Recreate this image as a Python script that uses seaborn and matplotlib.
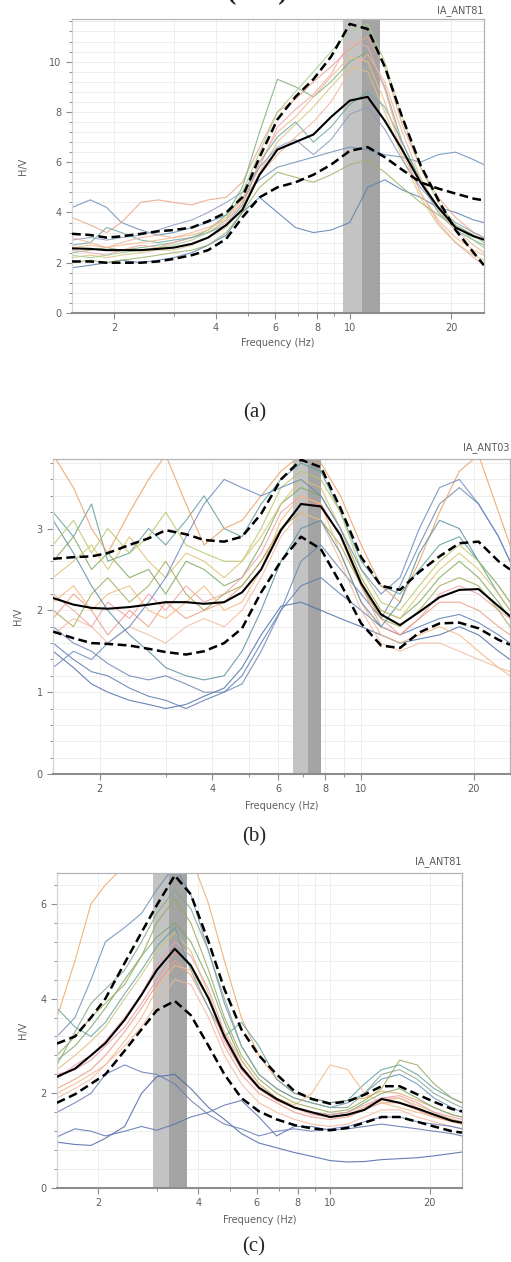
import numpy as np
import pandas as pd
import matplotlib
matplotlib.use("Agg")
import matplotlib.pyplot as plt
import matplotlib.ticker as mticker
import seaborn as sns

# frequency samples (Hz) used for every curve
freq = [1.5, 1.7, 1.9, 2.1, 2.4, 2.7, 3.0, 3.4, 3.8, 4.3, 4.8, 5.4, 6.1, 6.9, 7.8,
        8.8, 10.0, 11.3, 12.7, 14.3, 16.2, 18.3, 20.6, 23.3, 25.0]
xticks = [2, 4, 6, 8, 10, 20]

# ---- (a) IA_ANT81 ----
a_mean = [2.57, 2.55, 2.5, 2.5, 2.5, 2.55, 2.6, 2.75, 3.0, 3.5, 4.1, 5.5, 6.5, 6.8, 7.1,
          7.8, 8.45, 8.6, 7.65, 6.5, 5.2, 4.2, 3.4, 3.05, 2.92]
a_up = [3.15, 3.1, 3.0, 3.05, 3.15, 3.25, 3.3, 3.4, 3.65, 4.0, 4.6, 6.2, 7.7, 8.6, 9.3,
        10.2, 11.5, 11.3, 9.8, 7.8, 5.9, 4.5, 3.3, 2.4, 1.9]
a_low = [2.05, 2.05, 2.0, 2.0, 2.0, 2.05, 2.15, 2.3, 2.5, 2.95, 3.8, 4.6, 5.0, 5.2, 5.5,
         5.9, 6.45, 6.6, 6.2, 5.7, 5.2, 4.95, 4.75, 4.55, 4.48]
a_curves = [
    [1.8, 1.9, 2.0, 2.1, 2.0, 2.1, 2.2, 2.4, 2.7, 3.1, 4.0, 4.6, 4.0, 3.4, 3.2, 3.3, 3.6, 5.0, 5.3, 4.9, 4.6, 4.2, 4.0, 3.7, 3.6],
    [4.2, 4.5, 4.2, 3.6, 3.3, 3.1, 3.2, 3.4, 3.6, 3.9, 4.6, 5.3, 5.8, 6.0, 6.2, 6.4, 6.6, 6.5, 6.3, 6.2, 6.0, 6.3, 6.4, 6.1, 5.9],
    [3.8, 3.5, 3.2, 3.6, 4.4, 4.5, 4.4, 4.3, 4.5, 4.6, 5.2, 6.6, 8.0, 8.5, 9.2, 9.8, 10.5, 11.0, 9.8, 7.5, 5.8, 4.6, 3.8, 3.2, 3.0],
    [2.4, 2.5, 2.6, 2.5, 2.6, 2.7, 2.8, 3.0, 3.3, 3.9, 5.0, 7.2, 9.3, 9.0, 8.6, 9.2, 10.0, 10.4, 9.0, 6.8, 5.3, 4.2, 3.5, 3.1, 2.9],
    [2.5, 2.4, 2.3, 2.5, 2.7, 2.6, 2.8, 3.0, 3.2, 3.6, 4.4, 5.8, 7.4, 8.1, 8.7, 9.5, 10.8, 10.6, 8.9, 6.6, 4.8, 3.6, 2.8, 2.2, 1.9],
    [2.2, 2.3, 2.2, 2.3, 2.4, 2.5, 2.5, 2.7, 3.0, 3.4, 4.2, 5.6, 6.8, 7.5, 8.2, 9.0, 9.8, 9.6, 8.0, 6.2, 4.6, 3.5, 2.8, 2.3, 2.1],
    [2.7, 2.8, 3.4, 3.2, 2.9, 2.8, 2.9, 3.0, 3.2, 3.5, 4.3, 6.0, 7.0, 7.6, 6.8, 7.4, 8.3, 8.8, 8.2, 6.8, 5.2, 4.0, 3.3, 2.9, 2.7],
    [2.6, 2.7, 2.6, 2.7, 2.8, 2.9, 3.0, 3.1, 3.3, 3.8, 4.5, 6.0, 7.2, 7.8, 8.6, 9.4, 10.2, 10.0, 8.4, 6.4, 4.8, 3.7, 3.0, 2.5, 2.3],
    [2.0, 2.1, 2.0, 2.1, 2.2, 2.3, 2.4, 2.5, 2.7, 3.2, 4.0, 5.0, 5.6, 5.4, 5.2, 5.5, 5.9, 6.1, 5.6, 5.0, 4.4, 3.9, 3.4, 3.1, 2.8],
    [2.9, 3.0, 2.9, 3.0, 3.1, 3.3, 3.5, 3.7, 4.0, 4.4, 4.8, 5.8, 6.6, 6.9, 6.3, 6.9, 7.9, 8.2, 7.3, 6.1, 5.0, 4.2, 3.6, 3.2, 3.0],
    [3.0, 2.8, 2.6, 2.8, 3.0, 3.1, 3.0, 3.2, 3.4, 3.7, 4.4, 5.5, 6.3, 7.0, 7.6, 8.4, 9.6, 10.3, 9.2, 7.2, 5.4, 4.1, 3.3, 2.7, 2.4],
    [2.3, 2.2, 2.3, 2.4, 2.5, 2.6, 2.7, 2.9, 3.2, 3.7, 4.8, 6.4, 8.0, 8.8, 9.6, 10.4, 11.2, 11.5, 10.0, 7.8, 5.8, 4.4, 3.5, 2.9, 2.6],
]
a_colors = ['#5b7fb0', '#6c8fb8', '#eba487', '#7fae7a', '#f2a8b4', '#d9c384',
            '#6fa8a3', '#f4bb86', '#9eb36a', '#8e9bc0', '#f0b49a', '#a8cf8e']
a_peak = [9.53, 10.84, 12.3]

# ---- (b) IA_ANT03 ----
b_mean = [2.15, 2.07, 2.03, 2.02, 2.04, 2.07, 2.1, 2.1, 2.08, 2.1, 2.22, 2.5, 2.98, 3.3, 3.27,
          2.92, 2.33, 1.95, 1.82, 1.98, 2.16, 2.25, 2.26, 2.05, 1.93]
b_up = [2.63, 2.65, 2.66, 2.7, 2.8, 2.88, 2.98, 2.93, 2.86, 2.84, 2.9, 3.18, 3.6, 3.84, 3.75,
        3.25, 2.65, 2.3, 2.25, 2.47, 2.66, 2.82, 2.84, 2.6, 2.5]
b_low = [1.74, 1.66, 1.6, 1.59, 1.57, 1.53, 1.49, 1.46, 1.5, 1.6, 1.78, 2.22, 2.6, 2.9, 2.75,
         2.33, 1.84, 1.57, 1.54, 1.73, 1.84, 1.85, 1.78, 1.64, 1.58]
b_curves = [
    [1.5, 1.3, 1.1, 1.0, 0.9, 0.85, 0.8, 0.85, 0.95, 1.05, 1.3, 1.7, 2.05, 2.1, 2.0, 1.9, 1.8, 1.7, 1.6, 1.65, 1.7, 1.8, 1.7, 1.5, 1.4],
    [1.6, 1.4, 1.25, 1.2, 1.05, 0.95, 0.9, 0.8, 0.9, 1.0, 1.2, 1.6, 2.0, 2.3, 2.4, 2.2, 2.0, 1.8, 1.7, 1.8, 1.9, 1.95, 1.85, 1.7, 1.6],
    [1.8, 1.6, 1.5, 1.35, 1.2, 1.15, 1.2, 1.1, 1.0, 1.0, 1.1, 1.5, 2.0, 2.6, 2.8, 2.5, 2.2, 1.9, 2.3, 2.8, 3.3, 3.5, 3.3, 2.9, 2.6],
    [3.2, 2.9, 3.3, 2.6, 2.7, 3.0, 2.8, 3.1, 3.4, 3.0, 2.9, 3.3, 3.6, 3.8, 3.7, 3.2, 2.6, 2.3, 2.2, 2.5, 2.8, 2.9, 2.6, 2.2, 2.0],
    [3.9, 3.5, 3.0, 2.7, 3.2, 3.6, 3.9, 3.3, 2.8, 3.0, 3.1, 3.4, 3.7, 3.9, 3.8, 3.4, 2.8, 2.3, 2.1, 2.6, 3.2, 3.7, 3.9, 3.2, 2.8],
    [2.6, 2.9, 2.5, 2.7, 2.4, 2.5, 2.2, 2.6, 2.5, 2.3, 2.4, 2.8, 3.3, 3.5, 3.4, 3.0, 2.4, 2.0, 1.9, 2.1, 2.4, 2.6, 2.4, 2.1, 1.9],
    [2.2, 2.0, 1.8, 2.1, 1.9, 2.2, 2.0, 2.3, 2.1, 2.2, 2.4, 2.7, 3.2, 3.4, 3.3, 2.9, 2.3, 1.9, 1.7, 1.9, 2.2, 2.3, 2.2, 2.0, 1.9],
    [1.9, 2.2, 2.0, 1.7, 2.0, 1.8, 2.1, 1.9, 2.0, 2.1, 2.3, 2.6, 3.0, 3.3, 3.3, 2.9, 2.3, 1.8, 1.7, 1.9, 2.1, 2.1, 2.0, 1.8, 1.7],
    [2.4, 2.6, 2.8, 2.5, 2.9, 2.6, 2.4, 2.7, 2.6, 2.4, 2.6, 2.9, 3.3, 3.6, 3.5, 3.0, 2.4, 2.0, 1.9, 2.2, 2.5, 2.7, 2.5, 2.2, 2.0],
    [2.0, 1.8, 2.2, 2.4, 2.1, 2.3, 2.6, 2.2, 2.0, 2.2, 2.3, 2.6, 3.0, 3.2, 3.1, 2.8, 2.3, 1.9, 1.8, 2.0, 2.3, 2.4, 2.3, 2.0, 1.8],
    [2.1, 2.3, 2.0, 2.2, 2.3, 2.0, 1.9, 2.1, 2.3, 2.0, 2.1, 2.5, 3.1, 3.4, 3.3, 2.7, 2.1, 1.7, 1.6, 1.7, 1.8, 1.7, 1.5, 1.3, 1.25],
    [1.7, 1.9, 1.8, 1.6, 1.8, 1.7, 1.6, 1.8, 1.9, 1.8, 2.0, 2.4, 2.9, 3.2, 3.1, 2.6, 2.0, 1.6, 1.5, 1.6, 1.6, 1.5, 1.4, 1.3, 1.2],
    [3.1, 2.7, 2.3, 2.0, 1.7, 1.5, 1.3, 1.2, 1.15, 1.2, 1.5, 2.0, 2.6, 3.0, 3.1, 2.7, 2.1, 1.8, 2.1, 2.7, 3.1, 3.0, 2.6, 2.3, 2.1],
    [2.8, 3.1, 2.7, 3.0, 2.7, 2.9, 3.2, 2.8, 2.7, 2.6, 2.6, 3.0, 3.5, 3.7, 3.6, 3.2, 2.5, 2.1, 2.0, 2.3, 2.6, 2.8, 2.6, 2.3, 2.1],
    [1.3, 1.5, 1.4, 1.6, 1.8, 2.1, 2.4, 2.9, 3.3, 3.6, 3.5, 3.4, 3.5, 3.6, 3.4, 3.0, 2.5, 2.2, 2.4, 3.0, 3.5, 3.6, 3.3, 2.9, 2.6],
]
b_colors = ['#4f6fa8', '#5c7db5', '#6b86b0', '#5f9e9a', '#eaa064', '#7ea85e', '#f2a2a8',
            '#ec9c88', '#dcc36e', '#a3ad5a', '#f4b87c', '#f3b9a0', '#5a8fa0', '#b8c86a', '#6a8ac0']
b_peak = [6.57, 7.21, 7.81]

# ---- (c) IA_ANT81 ----
c_mean = [2.35, 2.52, 2.8, 3.06, 3.55, 4.08, 4.6, 5.05, 4.7, 4.0, 3.2, 2.55, 2.12, 1.88, 1.7,
          1.6, 1.5, 1.55, 1.65, 1.88, 1.8, 1.68, 1.55, 1.42, 1.38]
c_up = [3.05, 3.2, 3.6, 4.0, 4.75, 5.4, 5.97, 6.6, 6.2, 5.2, 4.2, 3.35, 2.8, 2.4, 2.05,
        1.88, 1.78, 1.83, 1.97, 2.15, 2.15, 1.98, 1.82, 1.67, 1.62]
c_low = [1.8, 1.98, 2.2, 2.4, 2.9, 3.35, 3.75, 3.95, 3.65, 3.0, 2.4, 1.9, 1.62, 1.45, 1.33,
         1.26, 1.22, 1.27, 1.38, 1.5, 1.5, 1.4, 1.3, 1.2, 1.17]
c_curves = [
    [3.6, 4.8, 6.0, 6.4, 6.8, 7.0, 7.2, 7.3, 7.0, 6.0, 4.8, 3.6, 2.8, 2.3, 2.0, 1.9, 1.8, 1.85, 1.9, 2.05, 2.0, 1.85, 1.7, 1.55, 1.5],
    [3.2, 3.6, 4.4, 5.2, 5.5, 5.8, 6.3, 6.8, 6.2, 5.0, 3.9, 3.0, 2.4, 2.1, 1.9, 1.8, 1.7, 1.8, 2.0, 2.3, 2.4, 2.2, 1.9, 1.7, 1.6],
    [2.7, 3.0, 3.4, 3.8, 4.4, 4.9, 5.3, 5.6, 5.2, 4.4, 3.5, 2.7, 2.2, 1.9, 1.7, 1.6, 1.55, 1.6, 1.8, 2.0, 2.1, 1.9, 1.7, 1.55, 1.5],
    [2.3, 2.6, 2.8, 3.1, 3.6, 4.1, 4.7, 5.2, 4.9, 4.2, 3.3, 2.6, 2.1, 1.85, 1.7, 1.55, 1.5, 1.55, 1.7, 1.9, 1.9, 1.7, 1.55, 1.45, 1.4],
    [2.1, 2.3, 2.5, 2.8, 3.3, 3.8, 4.3, 4.8, 4.5, 3.8, 3.0, 2.4, 2.0, 1.8, 1.6, 1.5, 1.45, 1.5, 1.65, 1.8, 1.8, 1.65, 1.5, 1.4, 1.35],
    [2.5, 2.8, 3.1, 3.4, 4.0, 4.5, 5.0, 5.4, 5.0, 4.1, 3.2, 2.5, 2.1, 1.85, 1.7, 1.6, 1.5, 1.55, 1.7, 1.85, 1.9, 1.75, 1.6, 1.45, 1.4],
    [3.8, 3.4, 3.2, 3.5, 4.1, 4.6, 5.1, 5.5, 4.6, 3.8, 3.2, 3.5, 3.0, 2.3, 2.0, 1.9, 1.8, 1.85, 2.2, 2.5, 2.6, 2.4, 2.1, 1.9, 1.8],
    [2.0, 2.2, 2.4, 2.6, 3.1, 3.6, 4.2, 4.7, 4.6, 4.0, 3.3, 2.7, 2.2, 1.9, 1.75, 2.0, 2.6, 2.5, 2.0, 1.8, 1.7, 1.6, 1.5, 1.4, 1.35],
    [2.8, 3.2, 3.6, 3.9, 4.3, 4.9, 5.6, 6.1, 5.6, 4.6, 3.6, 2.8, 2.3, 2.0, 1.8, 1.7, 1.6, 1.65, 1.85, 2.1, 2.7, 2.6, 2.2, 1.9, 1.8],
    [1.9, 2.1, 2.3, 2.6, 3.0, 3.4, 3.9, 4.4, 4.3, 3.6, 2.8, 2.2, 1.8, 1.6, 1.45, 1.35, 1.3, 1.35, 1.5, 1.65, 1.65, 1.5, 1.4, 1.3, 1.25],
    [2.6, 3.3, 3.9, 4.2, 4.6, 5.2, 5.8, 6.3, 5.9, 5.0, 4.0, 3.0, 2.4, 2.1, 1.9, 1.8, 1.7, 1.7, 2.0, 2.4, 2.5, 2.3, 2.0, 1.8, 1.7],
    [2.4, 2.5, 2.7, 3.0, 3.4, 3.9, 4.4, 5.0, 4.7, 4.0, 3.1, 2.5, 2.1, 1.85, 1.7, 1.6, 1.55, 1.6, 1.75, 1.9, 1.95, 1.8, 1.6, 1.5, 1.45],
    [0.97, 0.92, 0.9, 1.05, 1.3, 2.0, 2.35, 2.4, 2.1, 1.7, 1.45, 1.15, 0.95, 0.85, 0.75, 0.67, 0.58, 0.55, 0.56, 0.6, 0.62, 0.64, 0.68, 0.73, 0.76],
    [1.08, 1.25, 1.2, 1.1, 1.2, 1.3, 1.22, 1.35, 1.5, 1.6, 1.75, 1.85, 1.5, 1.1, 1.3, 1.3, 1.22, 1.25, 1.3, 1.35, 1.3, 1.25, 1.2, 1.15, 1.1],
    [1.6, 1.8, 2.0, 2.4, 2.6, 2.45, 2.4, 2.2, 1.85, 1.55, 1.35, 1.25, 1.1, 1.2, 1.25, 1.2, 1.25, 1.3, 1.4, 1.5, 1.5, 1.4, 1.35, 1.3, 1.25],
]
c_colors = ['#f0a868', '#6a90b8', '#7aa868', '#f2a0b0', '#ec9a84', '#d8c07a', '#62a3a0',
            '#f5b883', '#9aaa5c', '#f3b8a0', '#86a88a', '#e99aa6', '#4e66a8', '#5a74b0', '#6a7cb8']
c_peak = [2.92, 3.26, 3.69]

sns.set_theme(style="white")
plt.rcParams['font.family'] = ['DejaVu Sans']

GREY = '#5e5e5e'


def draw_panel(ax, curves, colors, mean, up, low, peak, ymax, ystep, ysub, station, ylab_x, st_y):
    ax.axvspan(peak[0], peak[1], color='#c3c3c3', lw=0, zorder=1)
    ax.axvspan(peak[1], peak[2], color='#a4a4a4', lw=0, zorder=1)

    long = pd.DataFrame({
        'freq': freq * len(curves),
        'hv': [v for c in curves for v in c],
        'win': np.repeat(np.arange(len(curves)), len(freq)),
    })
    sns.lineplot(data=long, x='freq', y='hv', hue='win', palette=colors, estimator=None,
                 legend=False, lw=0.8, alpha=0.85, ax=ax, zorder=2)
    sns.lineplot(x=freq, y=mean, color='black', lw=1.5, ax=ax, zorder=4)
    for c in (up, low):
        sns.lineplot(x=freq, y=c, color='black', lw=1.8, linestyle=(0, (3.5, 1.8)), ax=ax, zorder=4)

    ax.set_xscale('log')
    ax.set_xlim(1.5, 25)
    ax.set_ylim(0, ymax)
    ax.xaxis.set_major_locator(mticker.FixedLocator(xticks))
    ax.xaxis.set_major_formatter(mticker.FixedFormatter([str(t) for t in xticks]))
    ax.xaxis.set_minor_locator(mticker.LogLocator(base=10, subs=np.arange(1, 10), numticks=20))
    ax.xaxis.set_minor_formatter(mticker.NullFormatter())
    ax.yaxis.set_major_locator(mticker.MultipleLocator(ystep))
    ax.yaxis.set_minor_locator(mticker.AutoMinorLocator(ysub))

    ax.set_axisbelow(True)
    ax.grid(True, which='both', color='#ebebeb', lw=0.6)
    for s in ax.spines.values():
        s.set_color('#b4b4b4')
        s.set_linewidth(0.9)
    ax.spines['left'].set_color('#d4d4d4')
    ax.spines['bottom'].set_color('#8c8c8c')
    ax.spines['bottom'].set_linewidth(1.5)
    ax.tick_params(axis='both', which='both', colors='#8c8c8c', labelcolor=GREY,
                   labelsize=7, direction='out', bottom=True, left=True)
    ax.tick_params(which='major', length=4, width=0.8)
    ax.tick_params(which='minor', length=2.5, width=0.7)

    ax.set_xlabel('Frequency (Hz)', fontsize=7, color=GREY)
    ax.set_ylabel('H/V', fontsize=7, color=GREY)
    ax.xaxis.set_label_coords(0.5, -0.085)
    ax.yaxis.set_label_coords(ylab_x, 0.5)
    ax.text(1.0, st_y, station, transform=ax.transAxes, ha='right', va='bottom',
            fontsize=7, color='#5a5a5a')


fig = plt.figure(figsize=(5.11, 12.62), dpi=100)
ax_a = fig.add_axes([0.141, 0.752, 0.806, 0.233])
ax_b = fig.add_axes([0.104, 0.3867, 0.894, 0.2496])
ax_c = fig.add_axes([0.1115, 0.0586, 0.7925, 0.2496])

draw_panel(ax_a, a_curves, a_colors, a_mean, a_up, a_low, a_peak, 11.7, 2, 5, 'IA_ANT81', -0.107, 1.01)
draw_panel(ax_b, b_curves, b_colors, b_mean, b_up, b_low, b_peak, 3.85, 1, 5, 'IA_ANT03', -0.066, 1.02)
draw_panel(ax_c, c_curves, c_colors, c_mean, c_up, c_low, c_peak, 6.65, 2, 5, 'IA_ANT81', -0.072, 1.02)

serif = ['Liberation Serif', 'DejaVu Serif']
fig.text(0.499, 1 - 413 / 1262, '(a)', ha='center', va='center', fontsize=15, family=serif)
fig.text(0.497, 1 - 837 / 1262, '(b)', ha='center', va='center', fontsize=15, family=serif)
fig.text(0.497, 1 - 1247 / 1262, '(c)', ha='center', va='center', fontsize=15, family=serif)
# cut-off caption remnant at the very top of the image
fig.text(0.503, 1.006, '(      )', ha='center', va='center', fontsize=20, family=serif, weight='bold')

fig.savefig('out.png', dpi=100)
